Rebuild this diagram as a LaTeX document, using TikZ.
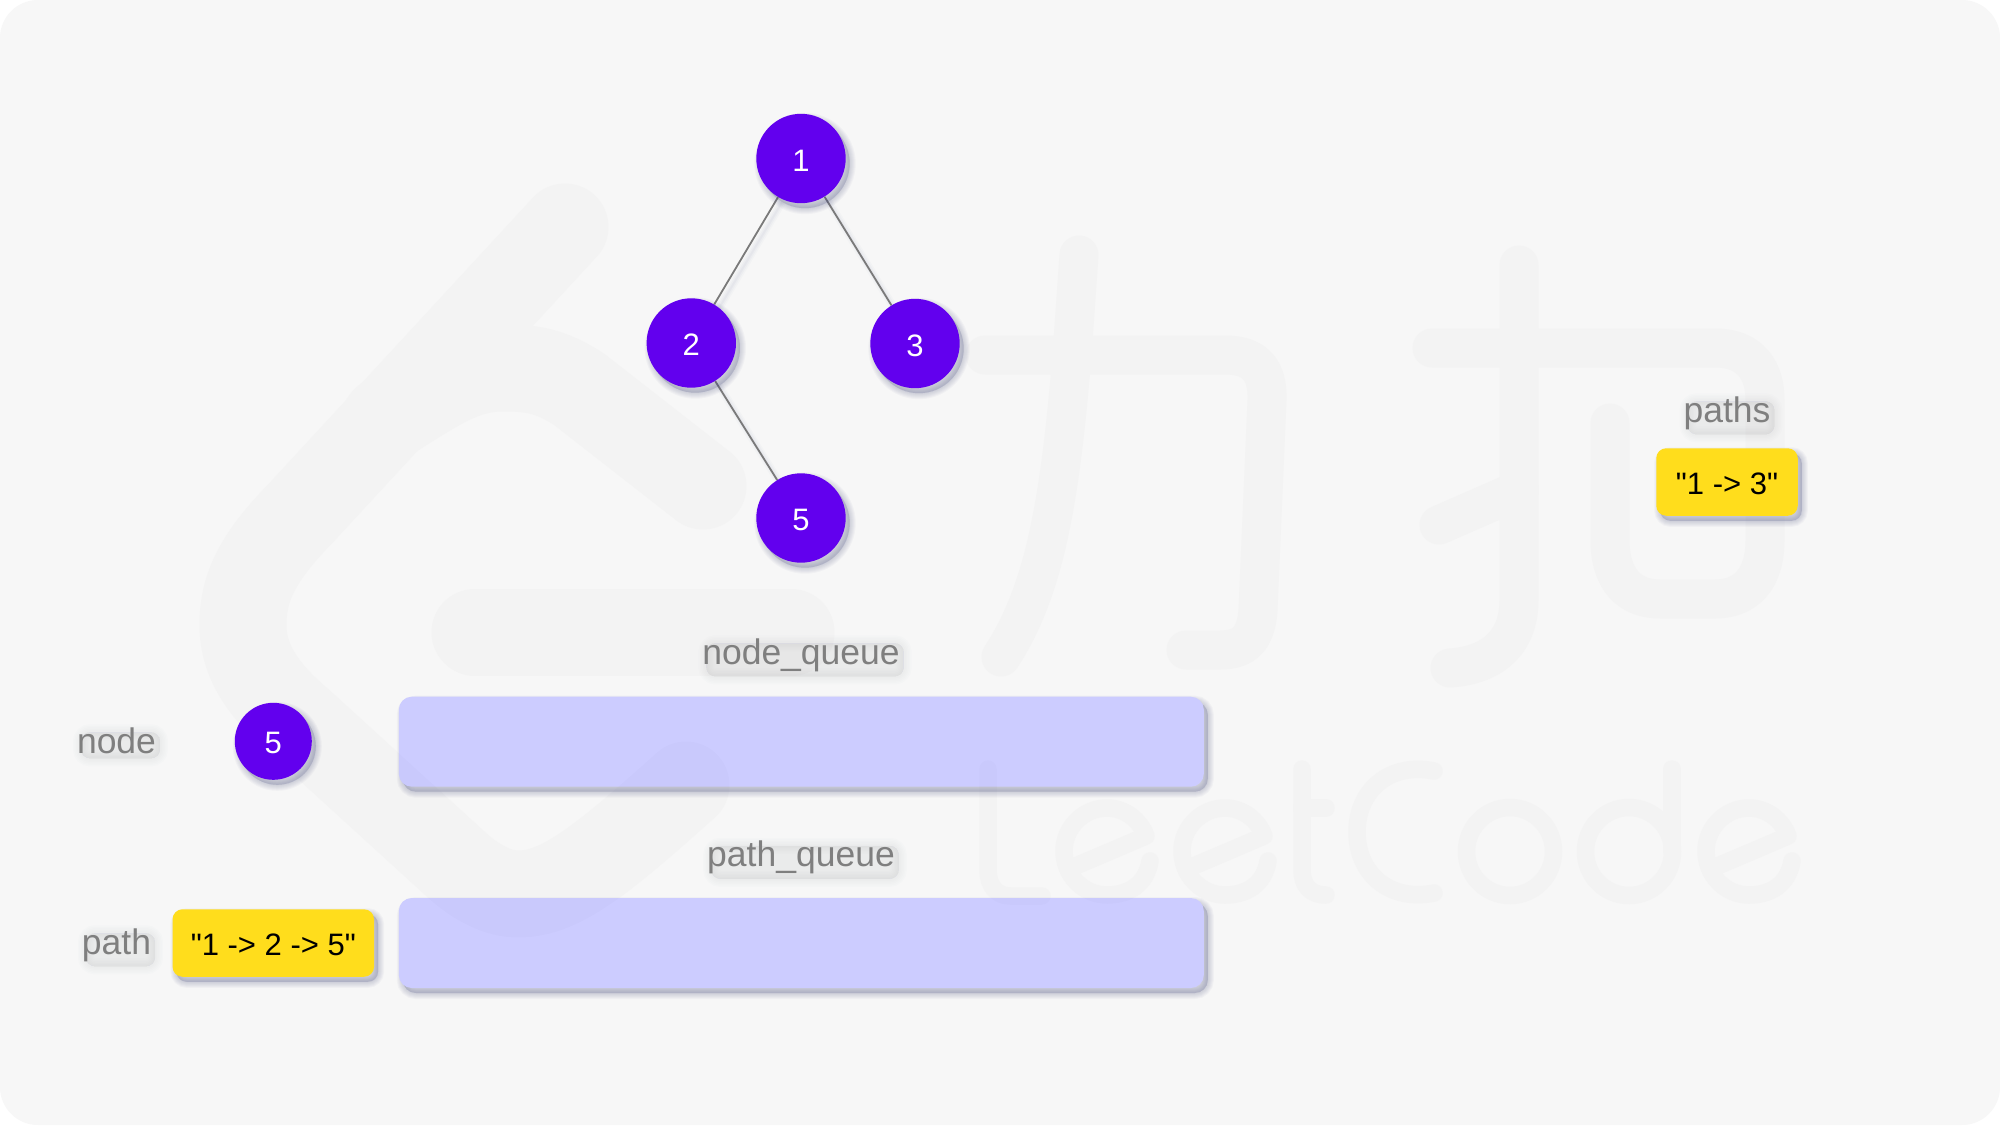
\documentclass[tikz,border=0pt]{standalone}
\usepackage{fontspec}
\newfontfamily\arialfont{Liberation Sans}
\usetikzlibrary{backgrounds}
\pgfdeclarelayer{wm}
\pgfdeclarelayer{edges}
\pgfsetlayers{wm,edges,main}
\definecolor{pagebg}{HTML}{F7F7F7}
\definecolor{wmark}{HTML}{F3F3F3}
\definecolor{treenode}{HTML}{6200EE}
\definecolor{queuefill}{HTML}{CCCCFF}
\definecolor{strfill}{HTML}{FFDD1C}
\definecolor{shcol}{HTML}{4A5080}
\definecolor{labelgray}{HTML}{7F7F7F}
\definecolor{linegray}{HTML}{7A7A7A}
\tikzset{
  softlayer/.style={preaction={draw=shcol,fill=shcol,line width=#1,opacity=.04,transform canvas={xshift=4pt,yshift=-5pt}}},
  softshadow/.style={softlayer=12pt,softlayer=10pt,softlayer=8pt,softlayer=6pt,softlayer=4pt,softlayer=2pt},
  textlayer/.style={preaction={draw=shcol,fill=shcol,line width=#1,opacity=.012,transform canvas={xshift=4pt,yshift=-5pt}}},
  softtext/.style={textlayer=16pt,textlayer=13pt,textlayer=10pt,textlayer=7pt,textlayer=4pt,textlayer=1pt},
  treeball/.style={circle,fill=treenode,text=white,inner sep=0pt,minimum size=#1,softshadow,
    font=\arialfont\fontsize{31}{36}\selectfont,text height=25pt,text depth=0pt},
  queuebox/.style={rectangle,rounded corners=13pt,inner sep=0pt,minimum width=805pt,minimum height=90pt,
    softshadow,fill=queuefill},
  strbox/.style={rectangle,rounded corners=10pt,inner sep=0pt,minimum height=67.5pt,
    softshadow,fill=strfill,text=black,font=\arialfont\fontsize{31}{36}\selectfont,
    text height=24pt,text depth=0pt},
  caption/.style={text=labelgray,inner sep=0pt,anchor=base,rounded corners=9pt,softtext,
    font=\arialfont\fontsize{35.5}{40}\selectfont},
  treeedge/.style={draw=linegray,line width=1.8pt,
    preaction={draw=shcol,line width=8pt,opacity=.025,transform canvas={xshift=4pt,yshift=-5pt}},
    preaction={draw=shcol,line width=5pt,opacity=.03,transform canvas={xshift=4pt,yshift=-5pt}},
    preaction={draw=shcol,line width=2pt,opacity=.04,transform canvas={xshift=4pt,yshift=-5pt}}},
  wmthick/.style={draw=wmark,line cap=round,line join=round,line width=#1},
}
\newcommand{\watermarkart}{%
  \draw[wmthick=87pt] (565,227) -- (300,514) .. controls (255,560) and (243,590) .. (243,625)
    .. controls (243,660) and (262,690) .. (300,722) -- (460,868)
    .. controls (480,885) and (500,894) .. (518,894) .. controls (560,894) and (600,862) .. (686,785);
  \draw[wmthick=87pt] (703,486) -- (580,390) .. controls (550,370) and (530,368) .. (503,368)
    .. controls (465,368) and (440,385) .. (385,420);
  \draw[wmthick=87pt] (475,632) -- (791,632);
  \draw[wmthick=39pt] (985,355) -- (1225,355) .. controls (1255,355) and (1268,370) .. (1267,400)
    -- (1258,610) .. controls (1256,638) and (1245,650) .. (1220,650) -- (1186,650);
  \draw[wmthick=39pt] (1079,255) -- (1072,355) .. controls (1060,500) and (1045,590) .. (1001,657);
  \draw[wmthick=39pt] (1432,348) -- (1715,348) .. controls (1750,348) and (1765,370) .. (1765,400)
    -- (1765,540) .. controls (1765,580) and (1745,599) .. (1715,599) -- (1660,599)
    .. controls (1630,599) and (1610,580) .. (1610,540) -- (1610,423);
  \draw[wmthick=39pt] (1519,265) -- (1519,600) .. controls (1519,640) and (1495,665) .. (1450,668);
  \draw[wmthick=39pt] (1439,525) -- (1519,490);
  \draw[wmthick=17.5pt] (988,769) -- (988,870) .. controls (988,885) and (996,896) .. (1010,896) -- (1042,896);
  \foreach \ex in {0,118,642}{
    \draw[wmthick=17.5pt] (1071+\ex,868) -- (1146+\ex,836) .. controls (1140+\ex,820) and (1125+\ex,808) .. (1107+\ex,808)
      .. controls (1083+\ex,808) and (1064+\ex,828) .. (1064+\ex,851)
      .. controls (1064+\ex,875) and (1083+\ex,895) .. (1107+\ex,895)
      .. controls (1128+\ex,895) and (1146+\ex,885) .. (1150+\ex,861);
  }
  \draw[wmthick=17.5pt] (1302,769) -- (1302,870) .. controls (1302,885) and (1310,895) .. (1326,895);
  \draw[wmthick=17.5pt] (1302,808) -- (1326,808);
  \draw[wmthick=17.5pt] (1434,771) .. controls (1390,762) and (1357,790) .. (1357,832) .. controls (1357,874) and (1390,902) .. (1434,893);
  \draw[wmthick=17.5pt] (1510,851.5) circle[x radius=43.5pt,y radius=44pt];
  \draw[wmthick=17.5pt] (1629,851.5) circle[x radius=43.5pt,y radius=44pt];
  \draw[wmthick=17.5pt] (1672,769) -- (1672,851);
}
\newcommand{\showthrough}[2]{%
  \begin{scope}[wmthick/.style={draw=black,opacity=.013,line cap=round,line join=round,line width=##1}]
    \clip[rounded corners=#2] (#1.north west) rectangle (#1.south east);
    \watermarkart
  \end{scope}}
\begin{document}
\begin{tikzpicture}[x=1pt,y=-1pt]
\useasboundingbox (0,0) rectangle (2000,1125);
\begin{pgfonlayer}{wm}
\fill[white] (0,0) rectangle (2000,1125);
\fill[pagebg,rounded corners=38pt] (0,0) rectangle (2000,1125);
\watermarkart
\end{pgfonlayer}

% captions
\node[caption] (lnode) at (116.5,753) {node};
\node[caption] (lpath) at (116.5,954) {path};
\node[caption] (lpaths) at (1727,422) {paths};
\node[caption] (lnq) at (801,664) {node\_queue};
\node[caption] (lpq) at (801,866.5) {path\_queue};

% tree
\node[treeball=89.4pt] (n1) at (801,158.5) {1};
\node[treeball=89.4pt] (n2) at (691.3,343) {2};
\node[treeball=89.4pt] (n3) at (915,343.5) {3};
\node[treeball=89.4pt] (n5) at (801,518) {5};
\begin{pgfonlayer}{edges}
\draw[treeedge] (n1) -- (n2);
\draw[treeedge] (n1) -- (n3);
\draw[treeedge] (n2) -- (n5);
\end{pgfonlayer}

% current
\node[treeball=77pt] (cur) at (273.3,741.3) {5};
\node[strbox,minimum width=201.5pt] (curpath) at (273.3,943) {"1 -> 2 -> 5"};
\node[strbox,minimum width=141.5pt] (done) at (1727,482) {"1 -> 3"};

% queues
\node[queuebox] (nq) at (801.3,741.7) {};
\node[queuebox] (pq) at (801.3,943) {};
\showthrough{nq}{13pt}
\showthrough{pq}{13pt}
\end{tikzpicture}
\end{document}
